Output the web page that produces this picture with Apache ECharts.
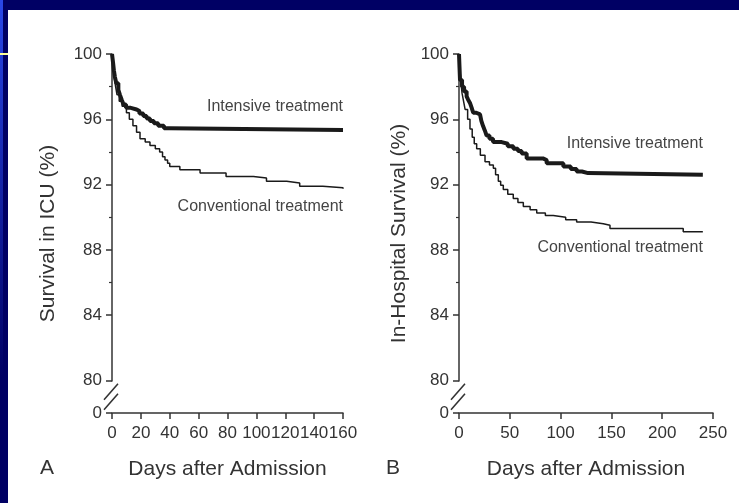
<!DOCTYPE html>
<html>
<head>
<meta charset="utf-8">
<script src="https://cdn.jsdelivr.net/npm/echarts@6/dist/echarts.min.js"></script>
<style>
html, body { margin: 0; padding: 0; background: #000064; }
#frame { position: absolute; left: 0; top: 0; width: 739px; height: 503px; background: #000064; overflow: hidden; }
#edge { position: absolute; left: 0; top: 0; width: 3px; height: 503px; background: linear-gradient(#2a48e8, #000064 75%); }
#panel { position: absolute; left: 8px; top: 10px; width: 731px; height: 493px; background: #fff; }
#mark { position: absolute; left: 0; top: 53px; width: 8px; height: 2px; background: #ffff99; }
#chart { position: absolute; left: 0; top: 0; width: 739px; height: 503px; }
</style>
</head>
<body>
<div id="frame">
  <div id="edge"></div>
  <div id="panel"></div>
  <div id="mark"></div>
  <div id="chart"></div>
</div>
<script>
// panel A - survival in ICU
const daysIntA = [0, 0.7, 1.3, 2, 3, 4.4, 5.5, 6.7, 8, 9.7, 13, 17, 19, 21.7, 24, 26.3, 29, 32, 36, 40, 160]
const survIntA = [100, 99.5, 99.0, 98.6, 98.2, 97.8, 97.5, 97.2, 96.9, 96.7, 96.6, 96.5, 96.35, 96.2, 96.05, 95.9, 95.75, 95.6, 95.45, 95.35, 95.35]
const daysConvA = [0, 0.7, 1.5, 2.5, 3.5, 5, 7, 10, 12, 14.5, 17, 19.4, 23, 26.3, 30, 33, 35, 36.7, 38.5, 40, 47, 61, 79, 98, 107, 121, 130, 146, 160]
const survConvA = [100, 99.3, 98.6, 98.0, 97.5, 97.1, 96.8, 96.4, 96.0, 95.6, 95.2, 94.8, 94.6, 94.4, 94.2, 94.0, 93.7, 93.5, 93.3, 93.1, 92.9, 92.7, 92.5, 92.4, 92.2, 92.1, 91.9, 91.8, 91.75]

// panel B - in-hospital survival
const daysIntB = [0, 0.5, 1, 3, 5, 7.5, 9, 10.8, 12.5, 14, 17, 20.7, 22, 23.6, 25.5, 27.2, 30, 33.5, 42, 48, 53.5, 58, 61.7, 66.6, 82.6, 86.3, 102.7, 110, 115.8, 121, 127, 240]
const survIntB = [100, 99.2, 98.4, 98.0, 97.7, 97.4, 97.2, 97.0, 96.7, 96.4, 96.3, 96.2, 95.9, 95.6, 95.3, 95.0, 94.8, 94.6, 94.5, 94.35, 94.2, 94.05, 93.9, 93.6, 93.5, 93.3, 93.1, 92.95, 92.8, 92.7, 92.6, 92.6]
const daysConvB = [0, 1, 2, 3, 4.2, 6, 8.5, 10.8, 13, 15, 17.4, 21, 25.6, 30, 33.8, 36, 38.7, 41, 43.6, 48, 53.4, 58, 63.3, 70, 76.5, 85, 92.8, 105, 115.8, 130, 142, 148.6, 220.7, 240]
const survConvB = [100, 99.0, 98.2, 97.6, 97.2, 96.6, 96.0, 95.4, 94.9, 94.5, 94.2, 93.8, 93.4, 93.2, 93.0, 92.6, 92.2, 91.95, 91.7, 91.4, 91.15, 90.9, 90.65, 90.45, 90.25, 90.1, 90.0, 89.85, 89.7, 89.6, 89.5, 89.3, 89.1, 89.1]

const yTicks = [0, 80, 84, 88, 92, 96, 100]
const xMaxA = 160, xStepA = 20
const xMaxB = 250, xStepB = 50

const pair = (xs, ys) => xs.map((x, i) => [x, ys[i]])
const FONT = "'Liberation Sans', Arial, sans-serif"
const INK = '#333'

function xAxis(idx, max, step) {
  return {
    type: 'value', gridIndex: idx, min: 0, max, interval: step,
    name: 'Days after Admission', nameLocation: 'middle', nameGap: 46,
    nameTextStyle: { fontFamily: FONT, fontSize: 21, color: INK },
    axisLine: { lineStyle: { color: INK, width: 1.5 } },
    axisTick: { length: 6, lineStyle: { color: INK, width: 1.5 } },
    axisLabel: { fontFamily: FONT, fontSize: 17, color: INK, margin: 12 },
    splitLine: { show: false }
  }
}

function yAxis(idx, title, gap) {
  return {
    type: 'value', gridIndex: idx, min: 0, max: 100, interval: 4,
    breaks: [{ start: 0, end: 80, gap: 2 }],
    breakArea: { show: false },
    name: title, nameLocation: 'middle', nameGap: gap, nameRotate: 90,
    nameTextStyle: { fontFamily: FONT, fontSize: 21, color: INK },
    axisLine: { show: true, lineStyle: { color: INK, width: 1.5 } },
    axisTick: { length: 6, lineStyle: { color: INK, width: 1.5 } },
    minorTick: { show: true, splitNumber: 2, length: 3, lineStyle: { color: INK, width: 1.2 } },
    axisLabel: {
      fontFamily: FONT, fontSize: 17, color: INK, margin: 10,
      formatter: v => {
        const r = Math.round(v)
        return Math.abs(v - r) < 0.3 && yTicks.includes(r) ? String(r) : ''
      }
    },
    splitLine: { show: false }
  }
}

function curve(name, idx, data, width, label, labelAt) {
  return {
    name, type: 'line', xAxisIndex: idx, yAxisIndex: idx,
    data, step: 'end', symbol: 'none',
    lineStyle: { color: '#1a1a1a', width },
    markPoint: {
      symbol: 'circle', symbolSize: 0,
      data: [{ coord: labelAt }],
      label: { show: true, formatter: label, position: 'left', distance: 0, fontFamily: FONT, fontSize: 16, color: '#444' }
    }
  }
}

const chart = echarts.init(document.getElementById('chart'), null, { renderer: 'canvas' })

chart.setOption({
  backgroundColor: 'transparent',
  animation: false,
  grid: [
    { left: 112, right: 396, top: 54, bottom: 90 },
    { left: 459, right: 26, top: 54, bottom: 90 }
  ],
  xAxis: [xAxis(0, xMaxA, xStepA), xAxis(1, xMaxB, xStepB)],
  yAxis: [yAxis(0, 'Survival in ICU (%)', 53), yAxis(1, 'In-Hospital Survival (%)', 49)],
  title: [
    { text: 'A', left: 40, top: 458, padding: 0, textStyle: { fontFamily: FONT, fontSize: 21, fontWeight: 'normal', color: INK } },
    { text: 'B', left: 386, top: 458, padding: 0, textStyle: { fontFamily: FONT, fontSize: 21, fontWeight: 'normal', color: INK } }
  ],
  series: [
    curve('Conventional A', 0, pair(daysConvA, survConvA), 1.5, 'Conventional treatment', [160, 90.67]),
    curve('Intensive A', 0, pair(daysIntA, survIntA), 4, 'Intensive treatment', [160, 96.79]),
    curve('Conventional B', 1, pair(daysConvB, survConvB), 1.5, 'Conventional treatment', [240, 88.12]),
    curve('Intensive B', 1, pair(daysIntB, survIntB), 4, 'Intensive treatment', [240, 94.48])
  ]
})

// axis break decoration: gap in the y axis line and two slashes
function breakMarks() {
  const els = []
  for (let i = 0; i < 2; i++) {
    const top = chart.convertToPixel({ xAxisIndex: i, yAxisIndex: i }, [0, 80])
    const bot = chart.convertToPixel({ xAxisIndex: i, yAxisIndex: i }, [0, 0])
    const x = top[0], cy = (top[1] + bot[1]) / 2
    els.push({ type: 'rect', shape: { x: x - 3, y: cy - 10, width: 6, height: 20 }, style: { fill: '#fff' }, z: 100 })
    for (const d of [-5, 5]) {
      els.push({
        type: 'line', z: 101,
        shape: { x1: x - 8, y1: cy + d + 8, x2: x + 6, y2: cy + d - 8 },
        style: { stroke: INK, lineWidth: 1.5 }
      })
    }
  }
  chart.setOption({ graphic: els })
}
breakMarks()
</script>
</body>
</html>
